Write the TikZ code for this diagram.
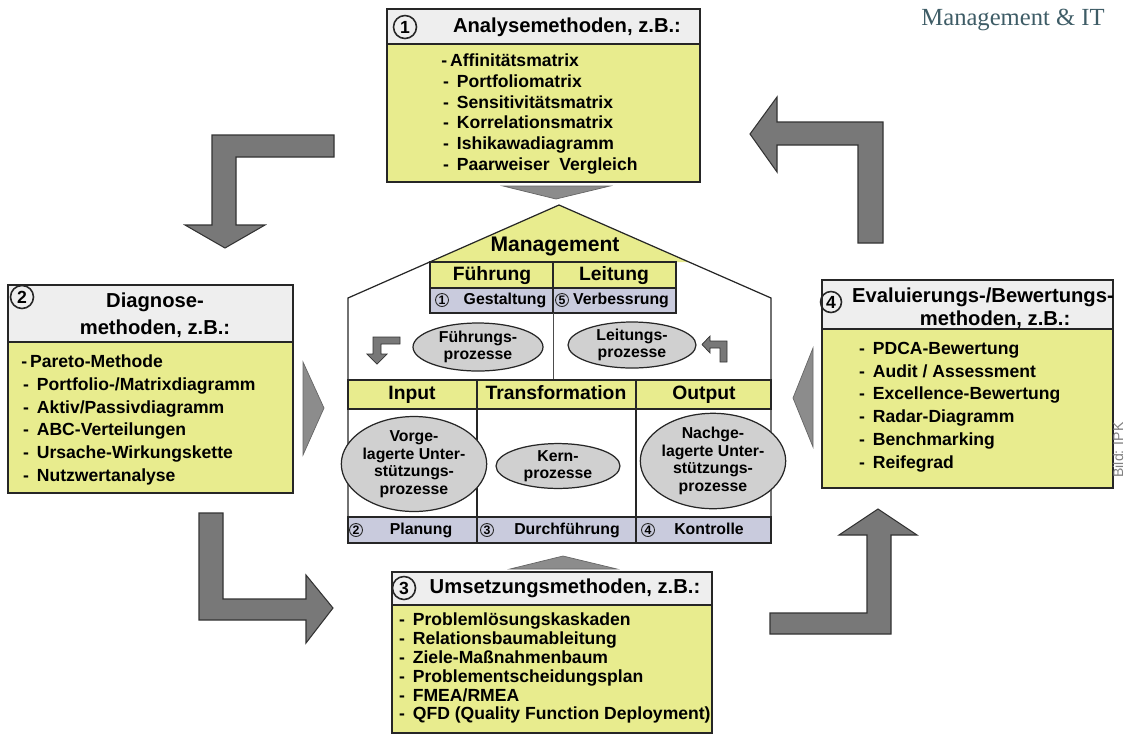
\documentclass[tikz,border=0pt]{standalone}
\usepackage{fontspec}
\setmainfont{Liberation Sans}
\newfontfamily\logofont{Liberation Serif}
\usetikzlibrary{shapes.geometric}
\definecolor{methyellow}{HTML}{E8EC8E}
\definecolor{headgray}{HTML}{EEEEEE}
\definecolor{rowblue}{HTML}{C9CBDD}
\definecolor{arrowgray}{HTML}{787878}
\definecolor{procgray}{HTML}{D0D0D0}
\definecolor{logoteal}{HTML}{3E5C66}
\newcommand\listdash{\hspace*{1pt}-\hspace{0.45em}}
\tikzset{head/.style={fill=headgray,draw=black!85,line width=0.8pt}, body/.style={fill=methyellow,draw=black!85,line width=0.8pt}, num/.style={circle,draw=black!85,line width=0.9pt,fill=headgray,inner sep=0pt,minimum size=0.46cm,font=\fontsize{10}{10}\selectfont\bfseries}, smallnum/.style={circle,draw=black!85,line width=0.5pt,inner sep=0pt,minimum size=0.26cm,font=\fontsize{7}{7}\selectfont\bfseries}, titletext/.style={font=\fontsize{11.5}{13}\selectfont\bfseries,align=center,inner sep=0pt}, itemtext/.style={align=left,anchor=west,inner sep=0pt}, cell/.style={font=\fontsize{11}{11}\selectfont\bfseries,inner sep=0pt,text height=8pt,text depth=2.3pt}, rowtext/.style={font=\fontsize{9}{9}\selectfont\bfseries,inner sep=0pt,text height=6.6pt,text depth=1.9pt}, proc/.style={ellipse,draw=black!85,fill=procgray,line width=0.7pt,inner sep=0pt,align=center,font=\fontsize{9}{10}\selectfont\bfseries}, tableline/.style={draw=black!85,line width=0.7pt}, blockarrow/.style={fill=arrowgray,draw=black!80,line width=0.6pt}, flatarrow/.style={fill=arrowgray!85,draw=black!60,line width=0.4pt}}

\begin{document}
\begin{tikzpicture}[x=0.02cm,y=-0.02cm]
\useasboundingbox (0,0) rectangle (1126,735);
% 1 Analyse
\draw[head] (387,9) rectangle (700,44);
\draw[body] (387,44) rectangle (700,182);
\node[num] (n1) at (405,27) {1};
\node[titletext] (t1) at (567,27) {Analysemethoden, z.B.:};
\node[itemtext,font=\fontsize{10}{11.8}\selectfont\bfseries] (l1) at (441,114) {-\,Affinitätsmatrix\\\listdash Portfoliomatrix\\\listdash Sensitivitätsmatrix\\\listdash Korrelationsmatrix\\\listdash Ishikawadiagramm\\\listdash Paarweiser\ \ Vergleich};
\draw[flatarrow] (503,186) -- (610,186) -- (556,199) -- cycle;
% 2 Diagnose
\draw[head] (8,285) rectangle (293,342);
\draw[body] (8,342) rectangle (293,493);
\node[num] (n2) at (22,297) {2};
\node[titletext,font=\fontsize{11.5}{15.3}\selectfont\bfseries] (t2) at (155,315) {Diagnose-\\methoden, z.B.:};
\node[itemtext,font=\fontsize{10}{13}\selectfont\bfseries] (l2) at (21,420) {-\,Pareto-Methode\\\listdash Portfolio-/Matrixdiagramm\\\listdash Aktiv/Passivdiagramm\\\listdash ABC-Verteilungen\\\listdash Ursache-Wirkungskette\\\listdash Nutzwertanalyse};
\draw[flatarrow] (303,362) -- (324,408) -- (303,455) -- cycle;
% 3 Umsetzung
\draw[head] (392,572) rectangle (712,605);
\draw[body] (392,605) rectangle (712,733);
\node[num] (n3) at (404,588) {3};
\node[titletext] (t3) at (565,588) {Umsetzungsmethoden, z.B.:};
\node[itemtext,font=\fontsize{10}{10.8}\selectfont\bfseries] (l3) at (397,668) {\listdash Problemlösungskaskaden\\\listdash Relationsbaumableitung\\\listdash Ziele-Maßnahmenbaum\\\listdash Problementscheidungsplan\\\listdash FMEA/RMEA\\\listdash QFD (Quality Function Deployment)};
\draw[flatarrow] (510,569) -- (617,569) -- (563,556) -- cycle;
% 4 Evaluierung
\draw[head] (822,280) rectangle (1113,329);
\draw[body] (822,329) rectangle (1113,488);
\node[titletext,font=\fontsize{11.5}{13}\selectfont\bfseries] (t4) at (983,308) {Evaluierungs-/Bewertungs-\\\hspace*{1.2em}methoden, z.B.:};
\node[num,minimum size=0.42cm,fill=none] (n4) at (831,302) {4};
\node[itemtext,font=\fontsize{10}{13}\selectfont\bfseries] (l4) at (857,407) {\listdash PDCA-Bewertung\\\listdash Audit / Assessment\\\listdash Excellence-Bewertung\\\listdash Radar-Diagramm\\\listdash Benchmarking\\\listdash Reifegrad};
\draw[flatarrow] (813,348) -- (793,398) -- (813,447) -- cycle;
% big turning arrows
\draw[blockarrow] (334,135) -- (212,135) -- (212,225) -- (185,225) -- (225,248) -- (265,225) -- (236,225) -- (236,157) -- (334,157) -- cycle;
\draw[blockarrow] (883,243) -- (883,122) -- (777,122) -- (777,97) -- (750,134) -- (777,172) -- (777,145) -- (858,145) -- (858,243) -- cycle;
\draw[blockarrow] (199,513) -- (199,620) -- (306,620) -- (306,643) -- (333,608) -- (306,575) -- (306,599) -- (223,599) -- (223,513) -- cycle;
\draw[blockarrow] (770,613) -- (770,634) -- (891,634) -- (891,535) -- (917,535) -- (878,509) -- (839,535) -- (867,535) -- (867,613) -- cycle;
% house
\fill[methyellow] (559,205) -- (430,262) -- (689,262) -- cycle;
\draw[tableline] (348,543) -- (348,298) -- (559,205) -- (771,298) -- (771,543);
\draw[tableline,fill=methyellow] (430,262) rectangle (676,288);
\draw[tableline,fill=rowblue] (430,288) rectangle (676,313);
\draw[tableline] (553,262) -- (553,313);
\draw[draw=black!70,line width=0.5pt] (553,313) -- (553,380);
\draw[tableline,fill=methyellow] (348,380) rectangle (771,409);
\draw[tableline,fill=rowblue] (348,517) rectangle (771,543);
\draw[tableline] (477,380) -- (477,543);
\draw[tableline] (636,380) -- (636,543);
\node[cell,font=\fontsize{12}{12}\selectfont\bfseries] (mgmt) at (555,246) {Management};
\node[cell] (fuehr) at (492,275) {Führung};
\node[cell] (leit) at (614,275) {Leitung};
\node[smallnum] (c1) at (442,300) {1};
\node[rowtext] (gest) at (505,300) {Gestaltung};
\node[smallnum] (c5) at (562,300) {5};
\node[rowtext] (verb) at (621,300) {Verbessrung};
\node[proc,minimum width=2.6cm,minimum height=0.96cm] (fp) at (478,347) {Führungs-\\prozesse};
\node[proc,minimum width=2.56cm,minimum height=0.92cm] (lp) at (632,345) {Leitungs-\\prozesse};
\draw[blockarrow,line width=0.4pt] (400,337) -- (373,337) -- (373,354) -- (367,354) -- (377,364) -- (387,354) -- (381,354) -- (381,344) -- (400,344) -- cycle;
\draw[blockarrow,line width=0.4pt] (727,362) -- (727,341) -- (710,341) -- (710,336) -- (702,344.5) -- (710,353) -- (710,348) -- (720,348) -- (720,362) -- cycle;
\node[cell] (inp) at (412,394) {Input};
\node[cell] (trans) at (556,394) {Transformation};
\node[cell] (outp) at (704,394) {Output};
\node[proc,minimum width=2.36cm,minimum height=1.9cm] (vp) at (414,464) {Vorge-\\lagerte Unter-\\stützungs-\\prozesse};
\node[proc,minimum width=2.48cm,minimum height=0.88cm] (kp) at (558,466) {Kern-\\prozesse};
\node[proc,minimum width=2.16cm,minimum height=1.84cm] (np) at (713,461) {Nachge-\\lagerte Unter-\\stützungs-\\prozesse};
\node[smallnum] (c2) at (356,530) {2};
\node[rowtext] (plan) at (421,530) {Planung};
\node[smallnum] (c3) at (487,530) {3};
\node[rowtext] (durch) at (567,530) {Durchführung};
\node[smallnum] (c4) at (648,530) {4};
\node[rowtext] (kontr) at (709,530) {Kontrolle};
% margin texts
\node[font=\logofont\fontsize{14}{14}\selectfont,text=logoteal,inner sep=0pt] (logo) at (1013,20) {Management \& IT};
\node[rotate=90,font=\fontsize{8}{8}\selectfont,text=black!50,inner sep=0pt] (credit) at (1118,450) {Bild: IPK};
\end{tikzpicture}
\end{document}
